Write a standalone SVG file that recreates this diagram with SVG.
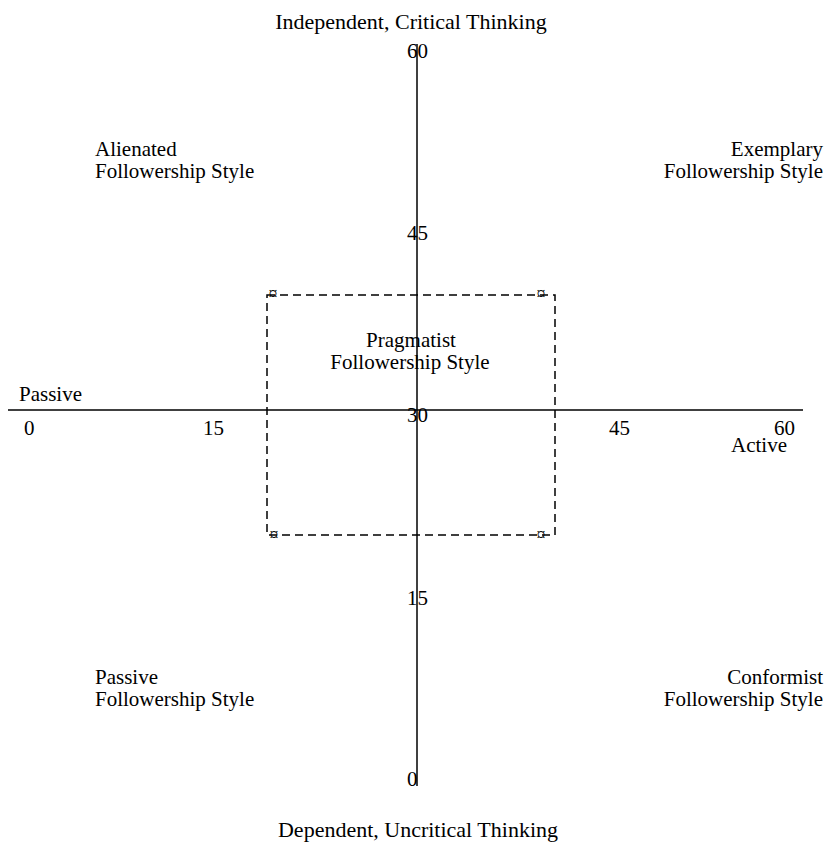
<svg xmlns="http://www.w3.org/2000/svg" width="828" height="846" viewBox="0 0 828 846">
<style>
text{font-family:"Liberation Serif","Times New Roman",serif;font-size:21px;fill:#000}
.m{text-anchor:middle}
.e{text-anchor:end}
.t{font-size:22px}
.mk{font-size:18px;text-anchor:middle}
.ax{stroke:#000;stroke-width:1.5;fill:none}
.box{stroke:#000;stroke-width:1.5;fill:none;stroke-dasharray:8,5}
</style>
<rect width="828" height="846" fill="#fff"/>
<g id="connectors">
<line class="ax" x1="8" y1="410" x2="803" y2="410"/>
<line class="ax" x1="417" y1="44" x2="417" y2="786"/>
</g>
<g id="axis-labels">
<text class="m t" x="411" y="29">Independent, Critical Thinking</text>
<text class="m t" x="418" y="837">Dependent, Uncritical Thinking</text>
<text x="19" y="401">Passive</text>
<text x="731" y="452">Active</text>
<text x="24" y="435">0</text>
<text x="203" y="435">15</text>
<text x="609" y="435">45</text>
<text x="774" y="435">60</text>
<text x="407" y="58">60</text>
<text x="407" y="240">45</text>
<text x="407" y="422">30</text>
<text x="407" y="605">15</text>
<text x="407" y="786">0</text>
</g>
<g id="alienated">
<text x="95" y="156">Alienated</text>
<text x="95" y="178">Followership Style</text>
</g>
<g id="exemplary">
<text class="e" x="823" y="156">Exemplary</text>
<text class="e" x="823" y="178">Followership Style</text>
</g>
<g id="passive">
<text x="95" y="684">Passive</text>
<text x="95" y="706">Followership Style</text>
</g>
<g id="conformist">
<text class="e" x="823" y="684">Conformist</text>
<text class="e" x="823" y="706">Followership Style</text>
</g>
<g id="pragmatist">
<rect class="box" x="267" y="295" width="288" height="240"/>
<text class="mk" x="273" y="300">¤</text>
<text class="mk" x="541" y="300">¤</text>
<text class="mk" x="274" y="541">¤</text>
<text class="mk" x="541" y="541">¤</text>
<text class="m" x="411" y="347">Pragmatist</text>
<text class="m" x="410" y="369">Followership Style</text>
</g>
</svg>
